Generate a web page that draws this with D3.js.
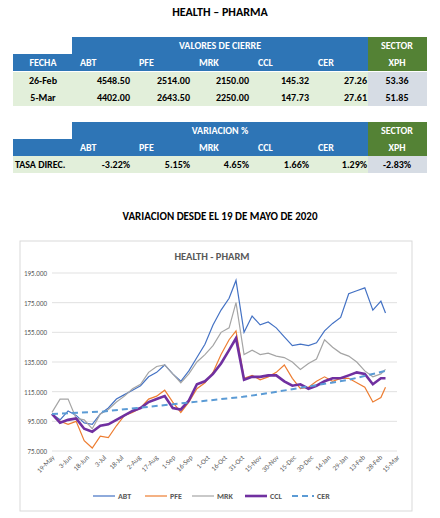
<!DOCTYPE html>
<html><head><meta charset="utf-8">
<script src="https://cdn.jsdelivr.net/npm/d3@7"></script>
<style>body{margin:0;background:#fff;font-family:Calibri,Carlito,"Liberation Sans",Arial,sans-serif}</style>
</head><body><svg id="c" width="440" height="518"></svg>
<script>
var tickers = ["ABT","PFE","MRK","CCL","CER"];
var fechas = ["26-Feb","5-Mar"];
var cierre = [[4548.50,2514.00,2150.00,145.32,27.26],[4402.00,2643.50,2250.00,147.73,27.61]];
var xph = [53.36,51.85];
var variacion = ["-3.22%","5.15%","4.65%","1.66%","1.29%"];
var xphVar = "-2.83%";

var dates = ["2020-05-19","2020-05-26","2020-06-02","2020-06-09","2020-06-16","2020-06-23","2020-06-30","2020-07-07","2020-07-14","2020-07-21","2020-07-28","2020-08-04","2020-08-11","2020-08-18","2020-08-25","2020-09-01","2020-09-08","2020-09-15","2020-09-22","2020-09-29","2020-10-06","2020-10-13","2020-10-20","2020-10-26","2020-11-02","2020-11-09","2020-11-16","2020-11-23","2020-11-30","2020-12-07","2020-12-14","2020-12-21","2020-12-28","2021-01-04","2021-01-11","2021-01-18","2021-01-25","2021-02-01","2021-02-08","2021-02-15","2021-02-22","2021-03-01","2021-03-05"];
var abt = [100,96,102,99,94,93,100,104,110,113,116,119,125,128,133,127,122,129,138,147,160,170,178,190,155,166,160,162,158,152,146,147,146,148,156,161,165,181,183,185,170,176,168];
var pfe = [100,95,93,95,82,77,85,84,92,99,101,104,110,112,116,108,101,108,117,121,128,140,150,156,124,126,123,125,128,133,124,117,118,122,125,122,124,124,121,118,108,111,118];
var mrk = [101,110,110,97,96,90,100,103,108,112,117,120,128,132,133,127,121,127,135,140,146,155,158,175,140,143,140,141,139,138,135,130,134,137,150,145,141,139,135,129,125,127,130];
var ccl = [100,94,96,97,90,88,92,93,96,99,102,104,108,110,112,104,103,109,120,122,127,134,143,151,123,125,125,126,126,122,119,120,117,119,122,124,124,126,128,127,120,124,124];
var cerDates = ["2020-05-19","2020-07-01","2020-08-01","2020-09-01","2020-10-01","2020-11-01","2020-12-01","2021-01-01","2021-02-01","2021-03-05"];
var cer = [100,101.5,104,106.5,109,111.5,115,119,123,129];
var yTicks = [75,95,115,135,155,175,195];

var svg = d3.select("#c");
var blue = "#2e75b6", green = "#548235", lg = "#e2efda", gr = "#d6dce4";
svg.append("text").attr("x",220).attr("y",16).attr("text-anchor","middle").attr("font-weight","bold").attr("font-size",12).text("HEALTH \u2013 PHARMA");

var colX = [13,72,131,191,250,310,368,427];
var rh = 17;
function cell(x0,x1,y,h,fill){ svg.append("rect").attr("x",x0).attr("y",y).attr("width",x1-x0).attr("height",h).attr("fill",fill); }
function txt(x,y,s,anchor,color){ svg.append("text").attr("x",x).attr("y",y).attr("text-anchor",anchor).attr("font-size",10).attr("font-weight","bold").attr("fill",color).text(s); }

function header(y0,title,first){
  cell(colX[1],colX[6],y0,rh,blue);
  cell(colX[0],colX[6],y0+rh,rh,blue);
  cell(colX[6],colX[7],y0,rh*2,green);
  txt((colX[1]+colX[6])/2,y0+12,title,"middle","#fff");
  txt(colX[6]+29,y0+12,"SECTOR","middle","#fff");
  txt(colX[6]+29,y0+rh+12,"XPH","middle","#fff");
  if(first) txt(43,y0+rh+12,first,"middle","#fff");
  tickers.forEach(function(t,i){ txt(colX[i+1]+8,y0+rh+12,t,"start","#fff"); });
}
header(37,"VALORES DE CIERRE","FECHA");
fechas.forEach(function(f,r){
  var y = 72+r*rh;
  cell(colX[0],colX[6],y,rh,lg); cell(colX[6],colX[7],y,rh,gr);
  txt(43,y+12,f,"middle","#000");
  cierre[r].forEach(function(v,i){ txt(colX[i+2]-1,y+12,v.toFixed(2),"end","#000"); });
  txt(colX[6]+29,y+12,xph[r].toFixed(2),"middle","#000");
});
header(122,"VARIACION %",null);
cell(colX[0],colX[6],156,rh,lg); cell(colX[6],colX[7],156,rh,gr);
txt(15,168,"TASA DIREC.","start","#000");
variacion.forEach(function(v,i){ txt(colX[i+2]-1,168,v,"end","#000"); });
txt(colX[6]+29,168,xphVar,"middle","#000");

svg.append("text").attr("x",220).attr("y",220).attr("text-anchor","middle").attr("font-weight","bold").attr("font-size",11).text("VARIACION DESDE EL 19 DE MAYO DE 2020");

svg.append("rect").attr("x",20).attr("y",241).attr("width",392).attr("height",270).attr("fill","#fff").attr("stroke","#d9d9d9");
svg.append("text").attr("x",212).attr("y",260).attr("text-anchor","middle").attr("font-size",10.5).attr("font-weight","bold").attr("fill","#595959").text("HEALTH - PHARM");

var parse = d3.timeParse("%Y-%m-%d");
var x = d3.scaleTime().domain([parse("2020-05-19"),parse("2021-03-15")]).range([52,397]);
var y = d3.scaleLinear().domain([75,195]).range([451,273]);
var g = svg.append("g");
g.selectAll(".gl").data(yTicks).enter().append("line").attr("x1",52).attr("x2",397).attr("y1",y).attr("y2",y).attr("stroke","#d9d9d9").attr("stroke-width",0.8);
g.selectAll(".yl").data(yTicks).enter().append("text").attr("x",47).attr("y",function(d){return y(d)+3;}).attr("text-anchor","end").attr("font-size",7).attr("fill","#595959").text(function(d){return d+".000";});
var xt = d3.range(0,301,15).map(function(d){ return d3.timeDay.offset(parse("2020-05-19"),d); });
var fmt = d3.timeFormat("%-d-%b");
g.selectAll(".xl").data(xt).enter().append("text").attr("transform",function(d){return "translate("+(x(d)+3)+",458) rotate(-45)";}).attr("text-anchor","end").attr("font-size",7).attr("fill","#595959").text(fmt);

var line = d3.line().x(function(d){return x(d[0]);}).y(function(d){return y(d[1]);});
var pd = dates.map(parse);
var series = [
  {name:"ABT",v:abt,d:pd,c:"#4472c4",w:1.2,dash:null},
  {name:"PFE",v:pfe,d:pd,c:"#ed7d31",w:1.2,dash:null},
  {name:"MRK",v:mrk,d:pd,c:"#a5a5a5",w:1.2,dash:null},
  {name:"CCL",v:ccl,d:pd,c:"#7030a0",w:2.6,dash:null},
  {name:"CER",v:cer,d:cerDates.map(parse),c:"#5b9bd5",w:2,dash:"6,4"}
];
series.forEach(function(s){
  g.append("path").datum(s.d.map(function(dd,i){return [dd,s.v[i]];})).attr("d",line).attr("fill","none").attr("stroke",s.c).attr("stroke-width",s.w).attr("stroke-dasharray",s.dash);
});
var lx = [93,145,192,245,292];
series.forEach(function(s,i){
  g.append("line").attr("x1",lx[i]).attr("x2",lx[i]+22).attr("y1",496).attr("y2",496).attr("stroke",s.c).attr("stroke-width",s.w).attr("stroke-dasharray",s.dash);
  g.append("text").attr("x",lx[i]+25).attr("y",499).attr("font-size",8).attr("font-weight","bold").attr("fill","#595959").text(s.name);
});
</script></body></html>
